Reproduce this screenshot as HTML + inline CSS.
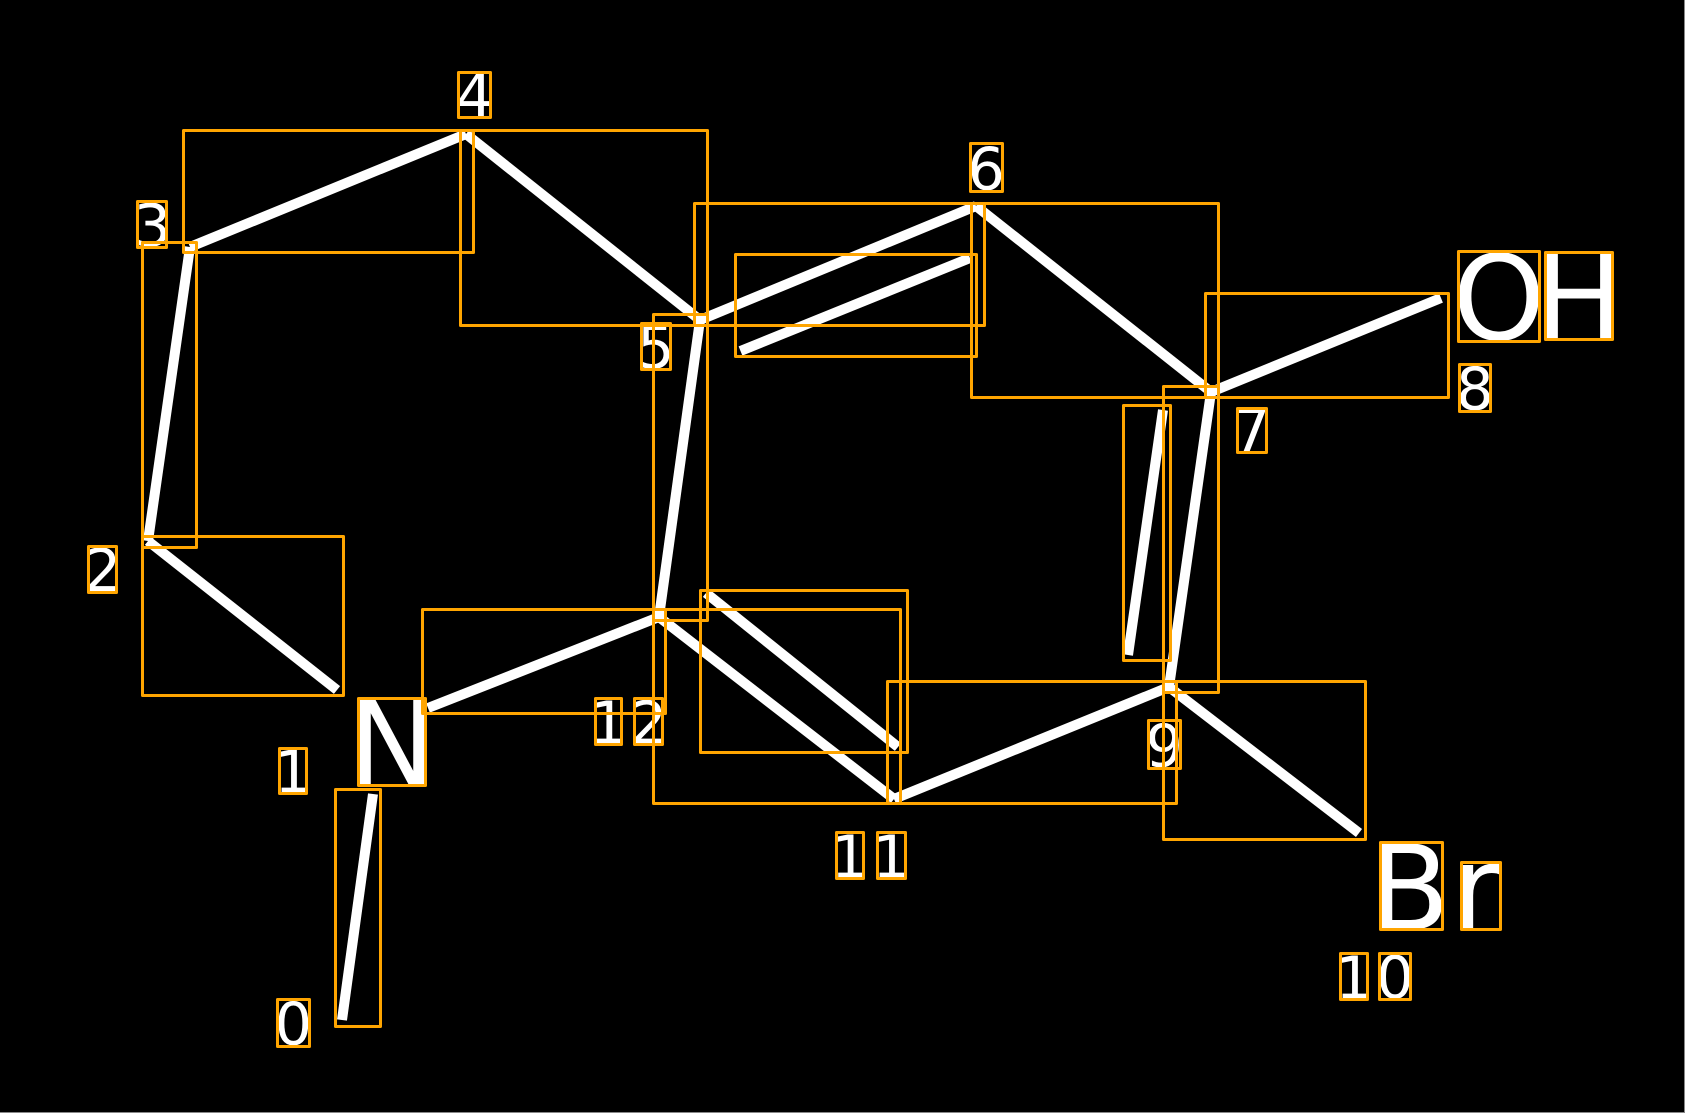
<!DOCTYPE html>
<html>
<head>
<meta charset="utf-8">
<style>
html,body{margin:0;padding:0;background:#000;width:1685px;height:1113px;overflow:hidden}
svg{display:block}
text{font-family:"DejaVu Sans","Liberation Sans",sans-serif;fill:#fff;text-anchor:middle}
.d{font-size:59px}
.b{font-size:118px}
</style>
</head>
<body>
<svg width="1685" height="1113" viewBox="0 0 1685 1113" xmlns="http://www.w3.org/2000/svg">
<rect width="1685" height="1113" fill="#000"/>
<g>
<text class="d" x="293.4" y="1044.5">0</text>
<text class="d" x="293" y="792.5">1</text>
<text class="d" x="102.5" y="591">2</text>
<text class="d" x="152.3" y="245.8">3</text>
<text class="d" x="474.5" y="116">4</text>
<text class="d" x="655.8" y="368">5</text>
<text class="d" x="986.2" y="189.5">6</text>
<text class="d" x="1251.7" y="451">7</text>
<text class="d" x="1474.9" y="409.5">8</text>
<text class="d" x="1164.3" y="766.5">9</text>
<text class="d" x="1354" y="998.5">1</text>
<text class="d" x="1395" y="998">0</text>
<text class="d" x="849.6" y="877.5">1</text>
<text class="d" x="891" y="877.5">1</text>
<text class="d" x="608.4" y="743.5">1</text>
<text class="d" x="648.5" y="743.5">2</text>
<text class="b" x="392" y="785">N</text>
<text class="b" x="1499" y="339.3">O</text>
<text class="b" x="1579" y="339.3">H</text>
<text class="b" x="1409.5" y="929.3">B</text>
<text class="b" x="1476" y="929.3">r</text>
</g>
<g stroke="#fff" stroke-width="10" fill="none" stroke-linecap="butt">
<line x1="342" y1="1020" x2="373" y2="794"/>
<line x1="337" y1="690" x2="148" y2="541"/>
<line x1="148" y1="541" x2="190" y2="247"/>
<line x1="190" y1="247" x2="466" y2="134"/>
<line x1="466" y1="134" x2="700" y2="320"/>
<line x1="700" y1="320" x2="976" y2="206"/>
<line x1="740.5" y1="351" x2="970" y2="258"/>
<line x1="976" y1="206" x2="1211" y2="392"/>
<line x1="1211" y1="392" x2="1441" y2="298"/>
<line x1="1211" y1="392" x2="1169" y2="687"/>
<line x1="1163" y1="410" x2="1128" y2="655"/>
<line x1="1169" y1="687" x2="894" y2="799"/>
<line x1="1169" y1="687" x2="1359" y2="833"/>
<line x1="659" y1="617" x2="894" y2="799"/>
<line x1="706" y1="593" x2="898" y2="747"/>
<line x1="700" y1="320" x2="659" y2="617"/>
<line x1="428" y1="708" x2="659" y2="617"/>
</g>
<g stroke="#ffa500" stroke-width="3" fill="none" stroke-linejoin="round">
<rect x="183.5" y="130.5" width="290" height="122"/>
<rect x="460.5" y="130.5" width="247" height="195"/>
<rect x="142.5" y="242.5" width="54" height="305"/>
<rect x="142.5" y="536.5" width="201" height="159"/>
<rect x="694.5" y="203.5" width="290" height="122"/>
<rect x="735.5" y="254.5" width="241" height="102"/>
<rect x="971.5" y="203.5" width="247" height="194"/>
<rect x="1205.5" y="293.5" width="243" height="104"/>
<rect x="653.5" y="314.5" width="54" height="306"/>
<rect x="1163.5" y="386.5" width="55" height="306"/>
<rect x="1123.5" y="405.5" width="47" height="255"/>
<rect x="422.5" y="609.5" width="243" height="104"/>
<rect x="653.5" y="609.5" width="247" height="194"/>
<rect x="700.5" y="590.5" width="207" height="162"/>
<rect x="887.5" y="681.5" width="289" height="122"/>
<rect x="1163.5" y="681.5" width="202" height="158"/>
<rect x="335.5" y="789.5" width="45" height="237"/>
<rect x="458.5" y="72.5" width="32" height="45"/>
<rect x="137.5" y="201.5" width="29" height="46"/>
<rect x="641.5" y="323.5" width="29" height="46"/>
<rect x="88.5" y="546.5" width="28" height="46"/>
<rect x="970.5" y="143.5" width="32" height="48"/>
<rect x="1237.5" y="408.5" width="29" height="44"/>
<rect x="1459.5" y="364.5" width="31" height="47"/>
<rect x="1458.5" y="251.5" width="81" height="90"/>
<rect x="1545.5" y="252.5" width="67" height="87"/>
<rect x="358.5" y="698.5" width="67" height="87"/>
<rect x="279.5" y="748.5" width="27" height="45"/>
<rect x="277.5" y="999.5" width="32" height="47"/>
<rect x="595.5" y="698.5" width="26" height="46"/>
<rect x="634.5" y="698.5" width="28" height="46"/>
<rect x="836.5" y="832.5" width="27" height="46"/>
<rect x="877.5" y="832.5" width="28" height="46"/>
<rect x="1148.5" y="720.5" width="32" height="48"/>
<rect x="1380.5" y="842.5" width="62" height="87"/>
<rect x="1461.5" y="862.5" width="39" height="67"/>
<rect x="1340.5" y="953.5" width="27" height="46"/>
<rect x="1379.5" y="953.5" width="31" height="46"/>
</g>
<rect x="1684" y="0" width="1" height="1113" fill="#888"/>
<rect x="0" y="1112" width="1685" height="1" fill="#888"/>
</svg>
</body>
</html>
